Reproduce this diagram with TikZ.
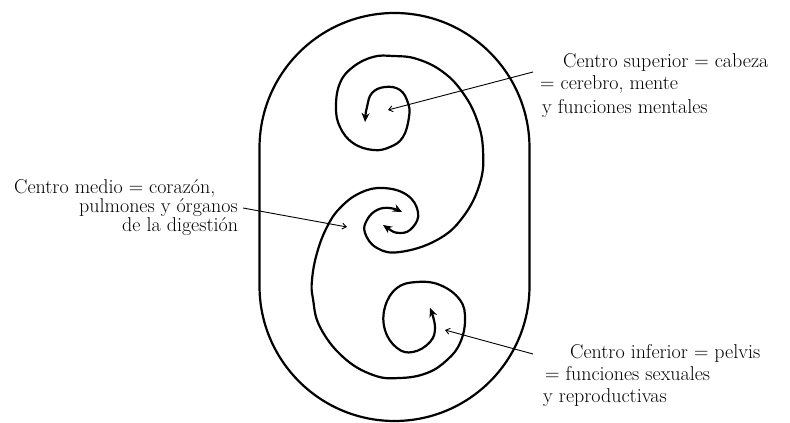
\documentclass[tikz,border=0pt]{standalone}
\usetikzlibrary{arrows.meta}
\begin{document}
\begin{tikzpicture}[x=1pt,y=1pt,
  spiral/.style={line width=2.2pt,line cap=round,{Stealth[length=9pt,width=8pt]}-{Stealth[length=9pt,width=8pt]}},
  pointer/.style={line width=0.9pt,-{Straight Barb[length=4pt,width=6pt]}},
  lbl/.style={anchor=base west,inner sep=0pt,font=\fontsize{20}{24}\selectfont}]
\useasboundingbox (0,0) rectangle (790,423);
% outer oval
\draw[line width=2.2pt] (259.5,275) arc[start angle=180,end angle=0,radius=135pt]
  -- (529.5,137) arc[start angle=0,end angle=-180,radius=135pt] -- cycle;
% upper S-curve
\draw[spiral] plot[smooth,tension=0.7] coordinates {
 (365,301) (367,316) (372,330) (385,336) (400,333) (408,320) (409,306)
 (403,286) (390,276) (373,273) (353,280) (340,296) (336,316) (340,340)
 (353,356) (373,366) (393,367) (417,364) (443,351) (463,330) (477,303)
 (483,273) (480,240) (463,206) (437,183) (400,171) (377,175) (365,190)
 (367,203) (377,213) (390,215) (402,211)};
% lower S-curve
\draw[spiral] plot[smooth,tension=0.7] coordinates {
 (383,198) (400,190) (413,196) (418,211) (407,228) (383,235) (360,230)
 (340,215) (327,196) (317,170) (312,143) (313,124) (320,96) (343,66)
 (373,48) (400,45) (427,50) (447,63) (460,80) (465,103) (460,123)
 (440,138) (417,141) (397,135) (385,116) (385,93) (397,75) (413,71)
 (430,81) (435,96) (430,115)};
% labels
\node[lbl] (s1) at (563,355) {Centro superior = cabeza};
\node[lbl] (s2) at (540,333) {= cerebro, mente};
\node[lbl] (s3) at (542,309) {y funciones mentales};
\node[lbl] (m1) at (14,229) {Centro medio = corazón,};
\node[lbl] (m2) at (79,210) {pulmones y órganos};
\node[lbl] (m3) at (122,191) {de la digestión};
\node[lbl] (i1) at (570,64) {Centro inferior = pelvis};
\node[lbl] (i2) at (545,42) {= funciones sexuales};
\node[lbl] (i3) at (543,20) {y reproductivas};
% pointers
\coordinate (ps) at (533,351);
\coordinate (pst) at (388,313);
\coordinate (pm) at (243,215);
\coordinate (pmt) at (347,196);
\coordinate (pi) at (533,69);
\coordinate (pit) at (445,93);
\draw[pointer] (ps) -- (pst);
\draw[pointer] (pm) -- (pmt);
\draw[pointer] (pi) -- (pit);
\end{tikzpicture}
\end{document}
